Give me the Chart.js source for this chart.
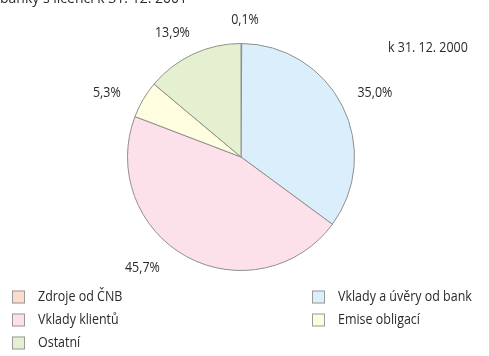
<!DOCTYPE html>
<html>
<head>
<meta charset="utf-8">
<script src="https://cdn.jsdelivr.net/npm/chart.js@4"></script>
<style>
  html, body { margin: 0; padding: 0; background: #fff; }
  #wrap { width: 489px; height: 356px; }
</style>
</head>
<body>
<div id="wrap"><canvas id="myChart" width="489" height="356"></canvas></div>
<script>
// Struktura zdrojů - k 31. 12. 2000
var kategorie = ['Zdroje od ČNB', 'Vklady a úvěry od bank', 'Vklady klientů', 'Emise obligací', 'Ostatní'];
var podily = [0.1, 35.0, 45.7, 5.3, 13.9];
var popisky = ['0,1%', '35,0%', '45,7%', '5,3%', '13,9%'];
var barvy = ['#fcdccb', '#dbeefc', '#fce1ea', '#fefde0', '#e5f0d1'];

var pismo = '14px "Open Sans", sans-serif';
var zuzeni = 0.89; // užší písmo

// posun popisku po obvodu (ve stupních) a vzdálenost od okraje
var posunUhlu = [1.5, 1, 13, -5, -4];
var odstup = [24, 35, 35, 35, 28];

// text se zúženou šířkou
function napis(ctx, text, x, y, zarovnani, sirka) {
    ctx.save();
    ctx.translate(x, y);
    ctx.scale(sirka || zuzeni, 1);
    ctx.textAlign = zarovnani;
    ctx.fillText(text, 0, 0);
    ctx.restore();
}

var popiskyPlugin = {
    id: 'popisky',
    afterDraw: function (chart) {
        var ctx = chart.ctx;
        var meta = chart.getDatasetMeta(0);
        ctx.save();
        ctx.fillStyle = '#2a2a2a';
        ctx.font = pismo;
        ctx.textBaseline = 'middle';
        meta.data.forEach(function (arc, i) {
            var a = (arc.startAngle + arc.endAngle) / 2 + posunUhlu[i] * Math.PI / 180;
            var r = arc.outerRadius + odstup[i];
            napis(ctx, popisky[i], arc.x + Math.cos(a) * r, arc.y + Math.sin(a) * r, 'center');
        });

        // nadpis nahoře (oříznutý okrajem) a datum
        ctx.textBaseline = 'alphabetic';
        napis(ctx, 'banky s licencí k 31. 12. 2001', 0, 3, 'left', 1);
        napis(ctx, 'k 31. 12. 2000', 388, 52, 'left');

        // legenda ve dvou sloupcích
        var poradi = [[0, 12, 297], [1, 312, 297], [2, 12, 320], [3, 312, 320], [4, 12, 343]];
        poradi.forEach(function (p) {
            var i = p[0], x = p[1], y = p[2];
            ctx.fillStyle = barvy[i];
            ctx.fillRect(x, y - 6.5, 13, 13);
            ctx.strokeStyle = '#9a9a9a';
            ctx.lineWidth = 1;
            ctx.strokeRect(x + 0.5, y - 6, 12, 12);
            ctx.fillStyle = '#2a2a2a';
            ctx.textBaseline = 'middle';
            napis(ctx, kategorie[i], x + 26, y, 'left');
        });
        ctx.restore();
    }
};

var ctx = document.getElementById('myChart').getContext('2d');
var myChart = new Chart(ctx, {
    type: 'pie',
    data: {
        labels: kategorie,
        datasets: [{
            data: podily,
            backgroundColor: barvy,
            borderColor: '#8f8f8f',
            borderWidth: 1
        }]
    },
    options: {
        responsive: false,
        animation: false,
        layout: { padding: { top: 43, bottom: 85, left: 127, right: 134 } },
        plugins: {
            legend: { display: false },
            tooltip: { enabled: false }
        }
    },
    plugins: [popiskyPlugin]
});
</script>
</body>
</html>
